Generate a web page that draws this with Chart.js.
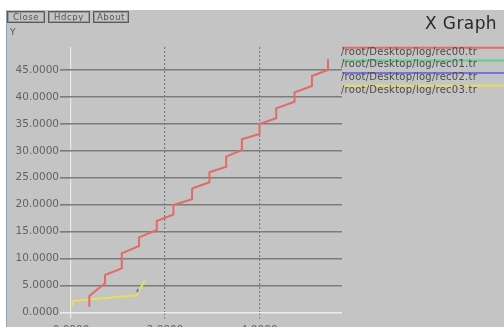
<!DOCTYPE html>
<html>
<head>
<meta charset="utf-8">
<script src="https://cdn.jsdelivr.net/npm/chart.js@4/dist/chart.umd.min.js"></script>
<style>
  html, body { margin: 0; padding: 0; }
  body { width: 504px; height: 327px; overflow: hidden; position: relative; background: #ffffff; font-family: "DejaVu Sans", sans-serif; }
  #panel { position: absolute; left: 6px; top: 10px; width: 498px; height: 317px; background: #c4c4c4; border-left: 1.5px solid #86a2bd; }
  #cv { position: absolute; left: 0; top: 0; }
  .btn { position: absolute; top: 11px; height: 10px; border: 1px solid #5a5a5a; box-shadow: inset 0 0 0 1px #d8d8d8; outline: 1px solid #9a9a9a; outline-offset: -2px;
         font-size: 8.5px; line-height: 10px; color: #555; letter-spacing: 0.6px; text-align: center; }
  #ylab { position: absolute; left: 10px; top: 27px; font-size: 9px; color: #555; }
  #title { position: absolute; right: 7px; top: 13px; font-size: 17px; color: #2a2a2a; letter-spacing: 0.4px; }
</style>
</head>
<body>
<div id="panel"></div>
<canvas id="cv" width="504" height="327"></canvas>
<div class="btn" style="left:7px;width:36px;">Close</div>
<div class="btn" style="left:48px;width:40px;">Hdcpy</div>
<div class="btn" style="left:93px;width:34px;">About</div>
<div id="ylab">Y</div>
<div id="title">X Graph</div>
<script>
// Trace files
const seriesNames = [
  "/root/Desktop/log/rec00.tr",
  "/root/Desktop/log/rec01.tr",
  "/root/Desktop/log/rec02.tr",
  "/root/Desktop/log/rec03.tr"
];
const seriesColors = ["#e26a6a", "#62d08a", "#7474dc", "#e4de62"];

// rec00: staircase
const rec00X = [0.389, 0.389, 0.723, 0.723, 1.079, 1.079, 1.447, 1.447, 1.823, 1.823, 2.177, 2.177,
                2.574, 2.574, 2.943, 2.943, 3.298, 3.298, 3.632, 3.632, 4.006, 4.006, 4.362, 4.362,
                4.751, 4.751, 5.121, 5.121, 5.462, 5.462];
const rec00Y = [1.08, 3.06, 5.42, 6.96, 8.20, 10.98, 12.34, 13.95, 15.31, 16.98, 18.18, 19.94,
                21.02, 23.00, 24.16, 26.01, 27.05, 28.91, 30.15, 32.13, 33.12, 34.97, 36.03, 37.88,
                39.11, 40.85, 42.02, 43.88, 44.99, 46.98];
// rec01: no samples
const rec01X = [];
const rec01Y = [];
// rec02: short segment
const rec02X = [1.405, 1.425];
const rec02Y = [3.75, 4.35];
// rec03
const rec03X = [0.036, 0.049, 0.70, 1.397, 1.57];
const rec03Y = [1.15, 2.15, 2.65, 3.20, 6.00];

const xTicks = [0, 2, 4];
const yTicks = [0, 5, 10, 15, 20, 25, 30, 35, 40, 45];

const xs = [rec00X, rec01X, rec02X, rec03X];
const ys = [rec00Y, rec01Y, rec02Y, rec03Y];

const datasets = seriesNames.map((name, i) => ({
  label: name,
  data: xs[i].map((x, k) => ({ x: x, y: ys[i][k] })),
  borderColor: seriesColors[i],
  borderWidth: 2,
  pointRadius: 0,
  tension: 0,
  fill: false
}));

const tickFont = { family: "DejaVu Sans", size: 10.5 };
const gridColor = ctx => (ctx.tick && ctx.tick.value === 0) ? "#ececec" : "#7c7c7c";

// Legend: a coloured rule over each file name, right of the plot
const sideLegend = {
  id: "sideLegend",
  afterDraw(chart) {
    const c = chart.ctx;
    c.save();
    chart.data.datasets.forEach((ds, i) => {
      const y = 47.7 + i * 12.7;
      c.strokeStyle = ds.borderColor;
      c.lineWidth = 2;
      c.beginPath();
      c.moveTo(342, y);
      c.lineTo(504, y);
      c.stroke();
      c.fillStyle = "#4a4a4a";
      c.font = "10px 'DejaVu Sans'";
      c.letterSpacing = "0.25px";
      c.textBaseline = "middle";
      c.fillText(ds.label, 341, y + 4.3);
    });
    c.restore();
  }
};

new Chart(document.getElementById("cv"), {
  type: "line",
  data: { datasets: datasets },
  plugins: [sideLegend],
  options: {
    responsive: false,
    animation: false,
    devicePixelRatio: 1,
    layout: { padding: { top: 47, right: 162, bottom: 0, left: 0 } },
    plugins: { legend: { display: false }, tooltip: { enabled: false } },
    scales: {
      x: {
        type: "linear",
        min: 0,
        max: 5.76,
        afterFit: s => { s.height = 14.5; },
        afterBuildTicks: s => { s.ticks = xTicks.map(v => ({ value: v })); },
        ticks: { font: tickFont, color: "#626262", padding: 5, maxRotation: 0,
                 callback: v => Number(v).toFixed(4) },
        grid: { color: gridColor, tickColor: gridColor, lineWidth: 1.2, tickLength: 6,
                tickBorderDash: ctx => (ctx.tick && ctx.tick.value === 0) ? [] : [2, 2] },
        border: { display: false, dash: ctx => (ctx.tick && ctx.tick.value === 0) ? [] : [2, 2] }
      },
      y: {
        min: 0,
        max: 49.26,
        afterFit: s => { s.width = 71; },
        afterBuildTicks: s => { s.ticks = yTicks.map(v => ({ value: v })); },
        ticks: { font: tickFont, color: "#626262", padding: 1,
                 callback: v => Number(v).toFixed(4) },
        grid: { color: gridColor, tickColor: gridColor, lineWidth: 1.6, tickLength: 11 },
        border: { display: false }
      }
    }
  }
});
</script>
</body>
</html>
